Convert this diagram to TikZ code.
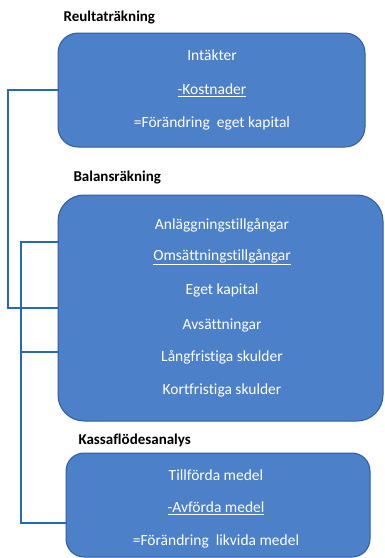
\documentclass[tikz,border=0pt]{standalone}
\usepackage{fontspec}
\setmainfont{Carlito}[Ligatures=NoCommon]
\usepackage{xcolor}
\definecolor{boxfill}{RGB}{76,128,200}
\definecolor{boxline}{RGB}{48,92,158}
\definecolor{linkblue}{RGB}{36,104,186}
\tikzset{
  sheet/.style={draw=boxline, line width=1pt, fill=boxfill, rounded corners=#1},
  post/.style={text=white, font=\fontsize{15.5}{17}\selectfont},
  heading/.style={font=\bfseries\fontsize{15}{17}\selectfont, anchor=west},
  link/.style={draw=linkblue, line width=1.3pt}
}

\begin{document}
\begin{tikzpicture}[x=1pt,y=-1pt]
\useasboundingbox (0,0) rectangle (385,558);
% resultatraekning
\node[heading] (hres) at (60,18) {Reultaträkning};
\node[sheet=20pt, minimum width=307pt, minimum height=114pt] (res) at (211.5,90) {};
\node[post] (intakt) at (212,55) {Intäkter};
\node[post] (kost) at (212,90) {\underline{-Kostnader}};
\node[post] (fek) at (212,123) {=Förändring~ eget kapital};
% balansraekning
\node[heading] (hbal) at (70,178) {Balansräkning};
\node[sheet=26pt, minimum width=325pt, minimum height=226pt] (bal) at (220.5,308) {};
\node[post] (anl) at (222,225) {Anläggningstillgångar};
\node[post] (oms) at (222,257) {\underline{Omsättningstillgångar}};
\node[post] (ek) at (222,290) {Eget kapital};
\node[post] (avs) at (222,325) {Avsättningar};
\node[post] (lang) at (222,357) {Långfristiga skulder};
\node[post] (kort) at (222,390) {Kortfristiga skulder};
% kassafloedesanalys
\node[heading] (hkas) at (75,440) {Kassaflödesanalys};
\node[sheet=18pt, minimum width=304pt, minimum height=104pt] (kas) at (218,505) {};
\node[post] (till) at (216,475) {Tillförda medel};
\node[post] (avf) at (216,508) {\underline{-Avförda medel}};
\node[post] (flik) at (216,541) {=Förändring~ likvida medel};
% connectors
\coordinate (bal1) at ([yshift=66pt]bal.west);
\coordinate (bal3) at ([yshift=-44pt]bal.west);
\coordinate (kas1) at ([yshift=-18pt]kas.west);
\coordinate (ytter) at (8,0);
\coordinate (inner) at (21,0);
\draw[link] (res.west) -| (ytter |- bal.west) -- (bal.west);
\draw[link] (bal1) -| (inner |- kas1) -- (kas1);
\draw[link] (inner |- bal3) -- (bal3);
\end{tikzpicture}
\end{document}
